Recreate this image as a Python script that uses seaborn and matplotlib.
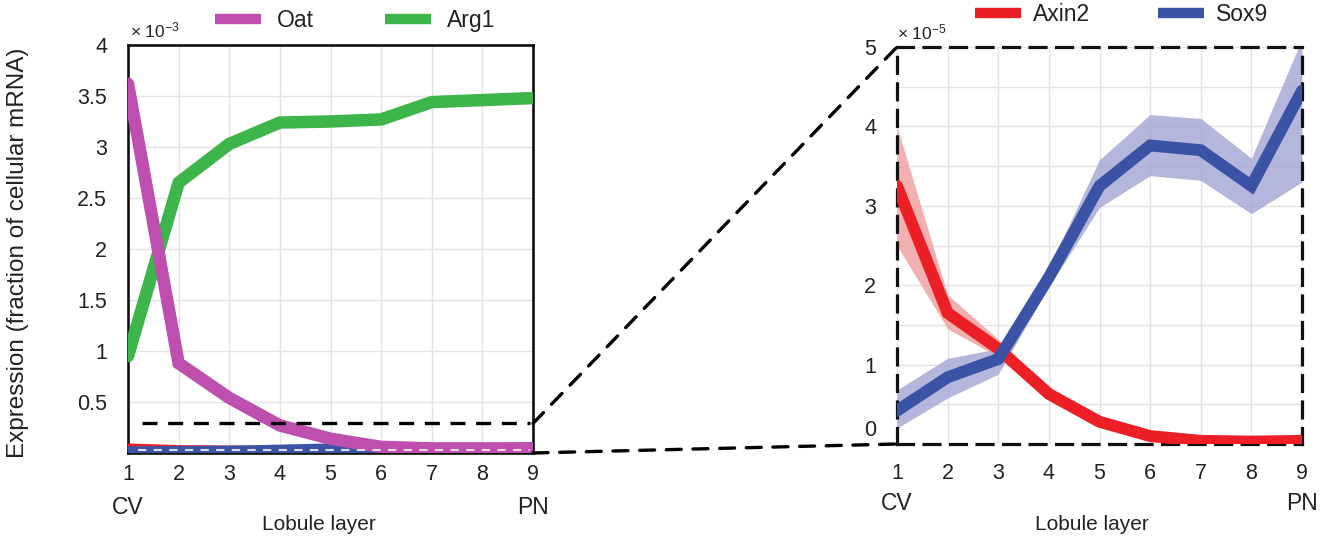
import numpy as np
import pandas as pd
import matplotlib
matplotlib.use("Agg")
import matplotlib.pyplot as plt
import seaborn as sns
from matplotlib.lines import Line2D
from matplotlib.patches import ConnectionPatch

# Lobule layers (1 = central vein, 9 = portal node)
layers = [1, 2, 3, 4, 5, 6, 7, 8, 9]

# Mean expression, fraction of cellular mRNA
oat = [3.62e-3, 0.88e-3, 0.54e-3, 0.27e-3, 0.14e-3, 0.06e-3, 0.045e-3, 0.045e-3, 0.045e-3]
arg1 = [0.95e-3, 2.65e-3, 3.03e-3, 3.24e-3, 3.25e-3, 3.27e-3, 3.44e-3, 3.46e-3, 3.48e-3]
axin2 = [3.25e-5, 1.65e-5, 1.20e-5, 0.63e-5, 0.28e-5, 0.10e-5, 0.04e-5, 0.03e-5, 0.04e-5]
sox9 = [0.42e-5, 0.84e-5, 1.07e-5, 2.10e-5, 3.25e-5, 3.76e-5, 3.70e-5, 3.25e-5, 4.45e-5]

# Error bands
axin2_lo = [2.50e-5, 1.45e-5, 1.10e-5, 0.58e-5, 0.25e-5, 0.08e-5, 0.02e-5, 0.01e-5, 0.02e-5]
axin2_hi = [4.00e-5, 1.88e-5, 1.32e-5, 0.68e-5, 0.31e-5, 0.12e-5, 0.06e-5, 0.05e-5, 0.06e-5]
sox9_lo = [0.20e-5, 0.58e-5, 0.88e-5, 1.98e-5, 2.98e-5, 3.38e-5, 3.32e-5, 2.90e-5, 3.30e-5]
sox9_hi = [0.68e-5, 1.08e-5, 1.20e-5, 2.22e-5, 3.58e-5, 4.15e-5, 4.10e-5, 3.60e-5, 5.10e-5]

genes_left = ["Oat", "Arg1"]
genes_right = ["Axin2", "Sox9"]
colors = {"Oat": "#BE4FAE", "Arg1": "#3DB54A", "Axin2": "#EC1F26", "Sox9": "#3A53A4"}
band_colors = {"Axin2": "#F2A3A4", "Sox9": "#A7A9D6"}

df = pd.DataFrame({
    "layer": layers * 4,
    "expr": oat + arg1 + axin2 + sox9,
    "gene": ["Oat"] * 9 + ["Arg1"] * 9 + ["Axin2"] * 9 + ["Sox9"] * 9,
})

sns.set_theme(style="white")
plt.rcParams["font.family"] = ["Liberation Sans", "DejaVu Sans"]
plt.rcParams["mathtext.default"] = "regular"

fig = plt.figure(figsize=(13.36, 5.36), dpi=100)
W, H = 1336, 536
axL = fig.add_axes([128 / W, (H - 453) / H, 405 / W, 408 / H])
axR = fig.add_axes([897 / W, (H - 444) / H, 405 / W, 397 / H])

LW = 9
TXT = "#222222"
grid_kw = dict(color="#e3e3e3", lw=1.0)

# ---- left panel: full scale (x 1e-3) ----
scaled = df.copy()
scaled["expr"] = scaled["expr"] * 1e3
order_left = ["Axin2", "Sox9", "Arg1", "Oat"]
for g in order_left:
    sns.lineplot(data=scaled[scaled.gene == g], x="layer", y="expr", color=colors[g],
                 lw=LW, ax=axL, legend=False, solid_joinstyle="miter", zorder=3)
axL.set_xlim(1, 9)
axL.set_ylim(0, 4)
axL.set_xticks(layers)
axL.set_yticks(np.arange(0.5, 4.01, 0.5))
axL.set_yticklabels(["0.5", "1", "1.5", "2", "2.5", "3", "3.5", "4"])
axL.grid(True, **grid_kw)
axL.set_axisbelow(True)
for s in axL.spines.values():
    s.set_color("#111111")
    s.set_linewidth(1.9)
axL.tick_params(axis="x", length=0, pad=8, labelsize=15.5, colors=TXT)
axL.tick_params(axis="y", length=0, pad=15, labelsize=15.5, colors=TXT)
axL.set_xlabel("Lobule layer", fontsize=15, color=TXT)
axL.xaxis.set_label_coords(0.472, -0.152)
axL.set_ylabel("")
axL.text(0.005, 1.012, r"× 10$^{-3}$", transform=axL.transAxes, fontsize=12.5,
         ha="left", va="bottom", color=TXT)

# zoom window marker inside the left panel
axL.plot([1.28, 8.94], [0.29, 0.29], color="black", lw=2.4, ls=(0, (4.5, 3.2)), zorder=4)
axL.plot([1.2, 8.94], [0.03, 0.03], color="#dddddd", lw=1.5, ls=(0, (4, 3.5)), zorder=4)

# ---- right panel: zoomed scale (x 1e-5) ----
for g in genes_right:
    lo = axin2_lo if g == "Axin2" else sox9_lo
    hi = axin2_hi if g == "Axin2" else sox9_hi
    axR.fill_between(layers, np.array(lo) * 1e5, np.array(hi) * 1e5,
                     color=band_colors[g], alpha=0.85, lw=0, zorder=2)
zoomed = df[df.gene.isin(genes_right)].copy()
zoomed["expr"] = zoomed["expr"] * 1e5
for g in genes_right:
    sns.lineplot(data=zoomed[zoomed.gene == g], x="layer", y="expr", color=colors[g],
                 lw=LW * 0.95, ax=axR, legend=False, solid_joinstyle="miter", zorder=3)
axR.set_xlim(1, 9)
axR.set_ylim(0, 5)
axR.set_xticks(layers)
axR.set_yticks([0, 1, 2, 3, 4, 5])
axR.set_yticklabels(["", "1", "2", "3", "4", "5"])
axR.set_yticks(np.arange(0.5, 5, 1.0), minor=True)
axR.grid(True, which="both", **grid_kw)
axR.set_axisbelow(True)
for s in axR.spines.values():
    s.set_color("#111111")
    s.set_linewidth(2.3)
    s.set_linestyle((0, (5, 3.3)))
axR.tick_params(axis="x", length=0, pad=14, labelsize=15.5, colors=TXT)
axR.tick_params(axis="y", which="both", length=0, pad=15, labelsize=15.5, colors=TXT)
# the zero label sits a little above the baseline
axR.annotate("0", xy=(0, 0), xycoords=("axes fraction", "data"), xytext=(-15, 10),
             textcoords="offset points", ha="right", va="center", fontsize=15.5,
             color=TXT, annotation_clip=False)
axR.set_xlabel("Lobule layer", fontsize=15, color=TXT)
axR.xaxis.set_label_coords(0.48, -0.18)
axR.set_ylabel("")
axR.text(0.0, 1.012, r"× 10$^{-5}$", transform=axR.transAxes, fontsize=12.5,
         ha="left", va="bottom", color=TXT)

# CV / PN end labels
for ax, off in ((axL, -39), (axR, -42.5)):
    for xv, t in ((1, "CV"), (9, "PN")):
        ax.annotate(t, xy=(xv, 0), xycoords=("data", "axes fraction"),
                    xytext=(0, off), textcoords="offset points",
                    ha="center", va="center", fontsize=16.5, color=TXT,
                    annotation_clip=False)

# legends above each panel
def legend_above(ax, genes, x0, y0, pad, spacing):
    handles = [Line2D([], [], color=colors[g], lw=7.5, solid_capstyle="butt") for g in genes]
    ax.legend(handles, genes, loc="center left", bbox_to_anchor=(x0, y0), ncol=2,
              frameon=False, fontsize=16.5, handlelength=2.0, handletextpad=pad,
              columnspacing=spacing, borderpad=0, borderaxespad=0, labelcolor=TXT)

legend_above(axL, genes_left, 0.215, 1.059, 0.7, 3.1)
legend_above(axR, genes_right, 0.193, 1.081, 0.5, 3.0)

# y axis title
fig.text(18 / W, (H - 253) / H, "Expression (fraction of cellular mRNA)", rotation=90,
         ha="center", va="center", fontsize=17.5, color=TXT)

# connectors from the zoom window to the right panel
for ya, yb in ((0.29, 5), (0.0, 0)):
    con = ConnectionPatch(xyA=(9, ya), coordsA=axL.transData, xyB=(1, yb), coordsB=axR.transData,
                          color="black", lw=2.4, ls=(0, (4.5, 3.5)))
    fig.add_artist(con)

fig.savefig("out.png", dpi=100)
